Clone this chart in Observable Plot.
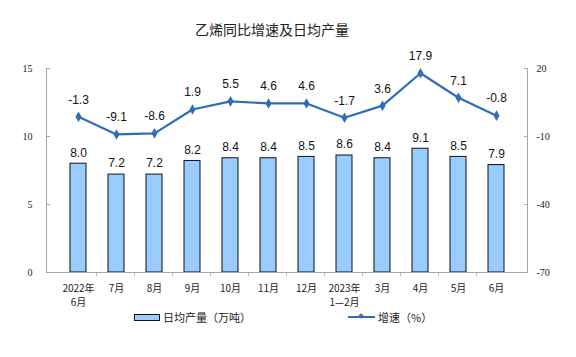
<!DOCTYPE html>
<html><head><meta charset="utf-8">
<script src="https://cdn.jsdelivr.net/npm/d3@7"></script>
<script src="https://cdn.jsdelivr.net/npm/@observablehq/plot@0.6"></script>
<style>
body{margin:0;background:#fff;}
#wrap{position:relative;width:576px;height:357px;font-family:"Noto Sans CJK SC",sans-serif;}
#title{position:absolute;left:0;width:544px;top:19px;text-align:center;font-size:14px;color:#222;}
.leg{position:absolute;top:309px;font-size:11px;color:#222;display:flex;align-items:center;}
.sw{display:inline-block;width:24px;height:5px;background:#99CCFF;border:1px solid #111;margin-right:3px;}
.ln{display:inline-block;width:27px;height:2px;background:#2F6DB8;margin-right:3px;position:relative;}
.ln:after{content:"";position:absolute;left:11px;top:-2px;width:4px;height:4px;background:#2F6DB8;transform:rotate(45deg);}
</style></head>
<body><div id="wrap"><div id="title">乙烯同比增速及日均产量</div>
<div class="leg" style="left:134px"><span class="sw"></span>日均产量（万吨）</div>
<div class="leg" style="left:348px"><span class="ln"></span>增速（%）</div>
</div>
<script>
const categories = ["2022年\n6月","7月","8月","9月","10月","11月","12月","2023年\n1—2月","3月","4月","5月","6月"];
const output = [8.0,7.2,7.2,8.2,8.4,8.4,8.5,8.6,8.4,9.1,8.5,7.9];
const growth = [-1.3,-9.1,-8.6,1.9,5.5,4.6,4.6,-1.7,3.6,17.9,7.1,-0.8];
const leftTicks = [0,5,10,15];
const rightMin = -70, rightMax = 20;

const toLeft = v => (v - rightMin) / (rightMax - rightMin) * 15;
const bars = categories.map((c,i)=>({c, v: output[i]}));
const line = categories.map((c,i)=>({c, g: growth[i], y: toLeft(growth[i])}));
const blue = "#2F6DB8";

const chart = Plot.plot({
  width: 576, height: 357,
  marginTop: 68, marginBottom: 85, marginLeft: 46, marginRight: 49,
  style: {fontFamily: "'Liberation Serif', serif", fontSize: "10px", color: "#222"},
  x: {type: "band", domain: categories, padding: 0.58, label: null},
  y: {domain: [0, 15], label: null},
  marks: [
    Plot.frame({anchor: "left", stroke: "#a6a6a6"}),
    Plot.frame({anchor: "right", stroke: "#a6a6a6"}),
    Plot.axisY({anchor: "left", ticks: leftTicks, tickSize: -4, tickPadding: 18, stroke: "#a6a6a6", label: null}),
    Plot.axisY({anchor: "right", ticks: leftTicks, tickSize: -4, tickPadding: 13, stroke: "#a6a6a6", label: null,
      tickFormat: d => String(Math.round(rightMin + d/15*(rightMax-rightMin)))}),
    Plot.axisX({tickSize: 0, tickPadding: 9, fontFamily: "'Noto Sans CJK SC', sans-serif", fontSize: 10, lineHeight: 1.45, label: null}),
    Plot.ruleX(categories.slice(1), {x: d=>d, y1: 0, y2: -0.3, dx: -20, stroke: "#bbb"}),
    Plot.barY(bars, {x: "c", y: "v", fill: "#99CCFF", stroke: "#111", strokeWidth: 1}),
    Plot.ruleY([0], {stroke: "#a6a6a6"}),
    Plot.text(bars, {x: "c", y: "v", text: d => d.v.toFixed(1), dy: -11, fontFamily: "'Liberation Sans', Arial, sans-serif", fontSize: 12, fill: "#111"}),
    Plot.line(line, {x: "c", y: "y", stroke: blue, strokeWidth: 2.2}),
    Plot.dot(line, {x: "c", y: "y", symbol: "diamond", r: 3.2, fill: blue, stroke: "none"}),
    Plot.text(line, {x: "c", y: "y", text: d => d.g.toFixed(1), dy: -17, fontFamily: "'Liberation Sans', Arial, sans-serif", fontSize: 12, fill: "#111"})
  ]
});
document.getElementById("wrap").appendChild(chart);
chart.style.position = "absolute"; chart.style.left = "0"; chart.style.top = "0";
</script></body></html>
